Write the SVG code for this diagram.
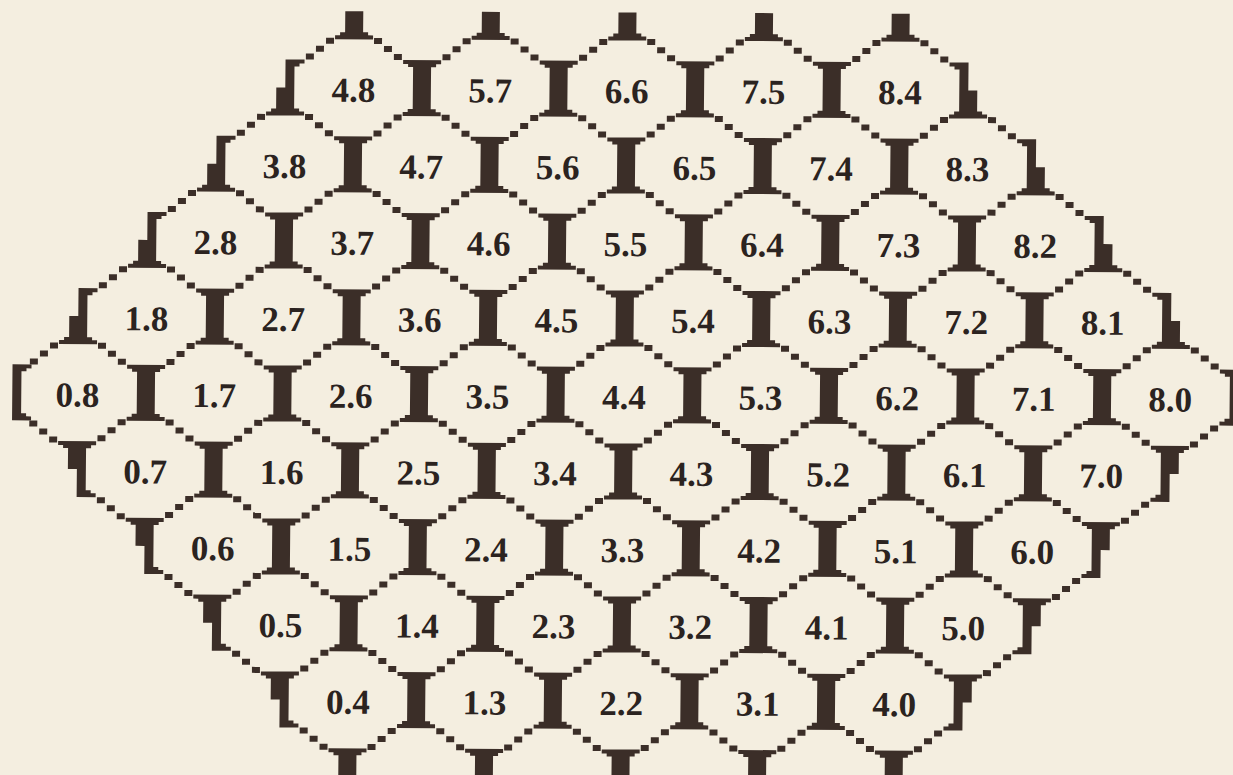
<svg xmlns="http://www.w3.org/2000/svg" xmlns:xlink="http://www.w3.org/1999/xlink" width="1233" height="775" viewBox="0 0 1233 775">
<style>
.lbl{font-family:"Liberation Serif","Times New Roman",serif;font-weight:bold;font-size:35px;fill:#2b2320;text-anchor:middle}
</style>
<defs>
<path id="ib" d="M-19 -28H19V-24H14V-21H9V21H14V24H19V28H-19V24H-14V21H-9V-21H-14V-24H-19Z"/>
<path id="ibT" d="M-9 0H9V21H14V24H19V28H-19V24H-14V21H-9Z"/>
<path id="ibB" d="M-19 -28H19V-24H14V-21H9V6H-9V-21H-14V-24H-19Z"/>
<path id="ibL1" d="M0 -28H19V-24H14V-21H9V21H14V24H19V28H-19V24H-14V21H-9V0H0Z"/>
<path id="ibR1" d="M0 -28H-19V-24H-14V-21H-9V21H-14V24H-19V28H19V24H14V21H9V0H0Z"/>
<path id="ibL2" d="M3 -28H22V-24H17V-21H12V21H17V24H22V28H3Z"/>
<path id="ibR2" d="M0 -28H-19V-24H-14V-21H-9V21H-14V24H-19V28H0Z"/>
<path id="ibL3" d="M-19 -28H19V-24H14V-21H9V21H14V24H19V28H0V0H-9V-21H-14V-24H-19Z"/>
<path id="ibR3" d="M19 -28H-19V-24H-14V-21H-9V21H-14V24H-19V28H0V0H9V-21H14V-24H19Z"/>
<g id="roof"><rect x="-48" y="-34" width="8" height="6"/><rect x="-38" y="-42" width="8" height="6"/><rect x="-28" y="-50" width="8" height="6"/><rect x="40" y="-34" width="8" height="6"/><rect x="30" y="-42" width="8" height="6"/><rect x="20" y="-50" width="8" height="6"/></g>
<g id="fl"><rect x="-48" y="28" width="8" height="6"/><rect x="-38" y="36" width="8" height="6"/><rect x="-28" y="44" width="8" height="6"/></g>
<g id="fr"><rect x="40" y="28" width="8" height="6"/><rect x="30" y="36" width="8" height="6"/><rect x="20" y="44" width="8" height="6"/></g>
</defs>
<rect width="1233" height="775" fill="#f4eee0"/>
<g transform="translate(626.8 89) matrix(1 0.0044 -0.0092 1 0 0)">
<g id="walls" fill="#3b2e28">
 <g transform="translate(0 -76.5)">
  <use href="#ibT" x="-273.2"/><use href="#ibT" x="-136.6"/><use href="#ibT" x="0"/><use href="#ibT" x="136.6"/><use href="#ibT" x="273.2"/>
 </g>
 <g>
  <use href="#ibL1" x="-341.5"/><use href="#ib" x="-204.9"/><use href="#ib" x="-68.3"/><use href="#ib" x="68.3"/><use href="#ib" x="204.9"/><use href="#ibR1" x="341.5"/>
  <use href="#roof" x="-273.2"/><use href="#roof" x="-136.6"/><use href="#roof" x="0"/><use href="#roof" x="136.6"/><use href="#roof" x="273.2"/>
 </g>
 <g transform="translate(0 76.5)">
  <use href="#ibL1" x="-409.8"/><use href="#ib" x="-273.2"/><use href="#ib" x="-136.6"/><use href="#ib" x="0"/><use href="#ib" x="136.6"/><use href="#ib" x="273.2"/><use href="#ibR1" x="409.8"/>
  <use href="#roof" x="-341.5"/><use href="#roof" x="-204.9"/><use href="#roof" x="-68.3"/><use href="#roof" x="68.3"/><use href="#roof" x="204.9"/><use href="#roof" x="341.5"/>
 </g>
 <g transform="translate(0 153)">
  <use href="#ibL1" x="-478.1"/><use href="#ib" x="-341.5"/><use href="#ib" x="-204.9"/><use href="#ib" x="-68.3"/><use href="#ib" x="68.3"/><use href="#ib" x="204.9"/><use href="#ib" x="341.5"/><use href="#ibR1" x="478.1"/>
  <use href="#roof" x="-409.8"/><use href="#roof" x="-273.2"/><use href="#roof" x="-136.6"/><use href="#roof" x="0"/><use href="#roof" x="136.6"/><use href="#roof" x="273.2"/><use href="#roof" x="409.8"/>
 </g>
 <g transform="translate(0 229.5)">
  <use href="#ibL1" x="-546.4"/><use href="#ib" x="-409.8"/><use href="#ib" x="-273.2"/><use href="#ib" x="-136.6"/><use href="#ib" x="0"/><use href="#ib" x="136.6"/><use href="#ib" x="273.2"/><use href="#ib" x="409.8"/><use href="#ibR1" x="546.4"/>
  <use href="#roof" x="-478.1"/><use href="#roof" x="-341.5"/><use href="#roof" x="-204.9"/><use href="#roof" x="-68.3"/><use href="#roof" x="68.3"/><use href="#roof" x="204.9"/><use href="#roof" x="341.5"/><use href="#roof" x="478.1"/>
 </g>
 <g transform="translate(0 306)">
  <use href="#ibL2" x="-614.7"/><use href="#ib" x="-478.1"/><use href="#ib" x="-341.5"/><use href="#ib" x="-204.9"/><use href="#ib" x="-68.3"/><use href="#ib" x="68.3"/><use href="#ib" x="204.9"/><use href="#ib" x="341.5"/><use href="#ib" x="478.1"/><use href="#ibR2" x="614.7"/>
  <use href="#roof" x="-546.4"/><use href="#roof" x="-409.8"/><use href="#roof" x="-273.2"/><use href="#roof" x="-136.6"/><use href="#roof" x="0"/><use href="#roof" x="136.6"/><use href="#roof" x="273.2"/><use href="#roof" x="409.8"/><use href="#roof" x="546.4"/>
  <use href="#fl" x="-546.4"/><use href="#fr" x="546.4"/>
 </g>
 <g transform="translate(0 382.5)">
  <use href="#ibL3" x="-546.4"/><use href="#ib" x="-409.8"/><use href="#ib" x="-273.2"/><use href="#ib" x="-136.6"/><use href="#ib" x="0"/><use href="#ib" x="136.6"/><use href="#ib" x="273.2"/><use href="#ib" x="409.8"/><use href="#ibR3" x="546.4"/>
  <use href="#roof" x="-478.1"/><use href="#roof" x="-341.5"/><use href="#roof" x="-204.9"/><use href="#roof" x="-68.3"/><use href="#roof" x="68.3"/><use href="#roof" x="204.9"/><use href="#roof" x="341.5"/><use href="#roof" x="478.1"/>
  <use href="#fl" x="-478.1"/><use href="#fr" x="478.1"/>
 </g>
 <g transform="translate(0 459)">
  <use href="#ibL3" x="-478.1"/><use href="#ib" x="-341.5"/><use href="#ib" x="-204.9"/><use href="#ib" x="-68.3"/><use href="#ib" x="68.3"/><use href="#ib" x="204.9"/><use href="#ib" x="341.5"/><use href="#ibR3" x="478.1"/>
  <use href="#roof" x="-409.8"/><use href="#roof" x="-273.2"/><use href="#roof" x="-136.6"/><use href="#roof" x="0"/><use href="#roof" x="136.6"/><use href="#roof" x="273.2"/><use href="#roof" x="409.8"/>
  <use href="#fl" x="-409.8"/><use href="#fr" x="409.8"/>
 </g>
 <g transform="translate(0 535.5)">
  <use href="#ibL3" x="-409.8"/><use href="#ib" x="-273.2"/><use href="#ib" x="-136.6"/><use href="#ib" x="0"/><use href="#ib" x="136.6"/><use href="#ib" x="273.2"/><use href="#ibR3" x="409.8"/>
  <use href="#roof" x="-341.5"/><use href="#roof" x="-204.9"/><use href="#roof" x="-68.3"/><use href="#roof" x="68.3"/><use href="#roof" x="204.9"/><use href="#roof" x="341.5"/>
  <use href="#fl" x="-341.5"/><use href="#fr" x="341.5"/>
 </g>
 <g transform="translate(0 612)">
  <use href="#ibL3" x="-341.5"/><use href="#ib" x="-204.9"/><use href="#ib" x="-68.3"/><use href="#ib" x="68.3"/><use href="#ib" x="204.9"/><use href="#ibR3" x="341.5"/>
  <use href="#roof" x="-273.2"/><use href="#roof" x="-136.6"/><use href="#roof" x="0"/><use href="#roof" x="136.6"/><use href="#roof" x="273.2"/>
  <use href="#fl" x="-273.2"/><use href="#fr" x="-273.2"/><use href="#fl" x="-136.6"/><use href="#fr" x="-136.6"/><use href="#fl" x="0"/><use href="#fr" x="0"/><use href="#fl" x="136.6"/><use href="#fr" x="136.6"/><use href="#fl" x="273.2"/><use href="#fr" x="273.2"/>
 </g>
 <g transform="translate(0 688.5)">
  <use href="#ibB" x="-273.2"/><use href="#ibB" x="-136.6"/><use href="#ibB" x="0"/><use href="#ibB" x="136.6"/><use href="#ibB" x="273.2"/>
 </g>
</g>
<g id="labels" class="lbl">
 <g>
  <g id="c48"><text class="lbl" x="-273.2" y="14">4.8</text></g>
  <g id="c57"><text class="lbl" x="-136.6" y="14">5.7</text></g>
  <g id="c66"><text class="lbl" x="0" y="14">6.6</text></g>
  <g id="c75"><text class="lbl" x="136.6" y="14">7.5</text></g>
  <g id="c84"><text class="lbl" x="273.2" y="14">8.4</text></g>
 </g>
 <g transform="translate(0 76.5)">
  <g id="c38"><text class="lbl" x="-341.5" y="14">3.8</text></g>
  <g id="c47"><text class="lbl" x="-204.9" y="14">4.7</text></g>
  <g id="c56"><text class="lbl" x="-68.3" y="14">5.6</text></g>
  <g id="c65"><text class="lbl" x="68.3" y="14">6.5</text></g>
  <g id="c74"><text class="lbl" x="204.9" y="14">7.4</text></g>
  <g id="c83"><text class="lbl" x="341.5" y="14">8.3</text></g>
 </g>
 <g transform="translate(0 153)">
  <g id="c28"><text class="lbl" x="-409.8" y="14">2.8</text></g>
  <g id="c37"><text class="lbl" x="-273.2" y="14">3.7</text></g>
  <g id="c46"><text class="lbl" x="-136.6" y="14">4.6</text></g>
  <g id="c55"><text class="lbl" x="0" y="14">5.5</text></g>
  <g id="c64"><text class="lbl" x="136.6" y="14">6.4</text></g>
  <g id="c73"><text class="lbl" x="273.2" y="14">7.3</text></g>
  <g id="c82"><text class="lbl" x="409.8" y="14">8.2</text></g>
 </g>
 <g transform="translate(0 229.5)">
  <g id="c18"><text class="lbl" x="-478.1" y="14">1.8</text></g>
  <g id="c27"><text class="lbl" x="-341.5" y="14">2.7</text></g>
  <g id="c36"><text class="lbl" x="-204.9" y="14">3.6</text></g>
  <g id="c45"><text class="lbl" x="-68.3" y="14">4.5</text></g>
  <g id="c54"><text class="lbl" x="68.3" y="14">5.4</text></g>
  <g id="c63"><text class="lbl" x="204.9" y="14">6.3</text></g>
  <g id="c72"><text class="lbl" x="341.5" y="14">7.2</text></g>
  <g id="c81"><text class="lbl" x="478.1" y="14">8.1</text></g>
 </g>
 <g transform="translate(0 306)">
  <g id="c08"><text class="lbl" x="-546.4" y="14">0.8</text></g>
  <g id="c17"><text class="lbl" x="-409.8" y="14">1.7</text></g>
  <g id="c26"><text class="lbl" x="-273.2" y="14">2.6</text></g>
  <g id="c35"><text class="lbl" x="-136.6" y="14">3.5</text></g>
  <g id="c44"><text class="lbl" x="0" y="14">4.4</text></g>
  <g id="c53"><text class="lbl" x="136.6" y="14">5.3</text></g>
  <g id="c62"><text class="lbl" x="273.2" y="14">6.2</text></g>
  <g id="c71"><text class="lbl" x="409.8" y="14">7.1</text></g>
  <g id="c80"><text class="lbl" x="546.4" y="14">8.0</text></g>
 </g>
 <g transform="translate(0 382.5)">
  <g id="c07"><text class="lbl" x="-478.1" y="14">0.7</text></g>
  <g id="c16"><text class="lbl" x="-341.5" y="14">1.6</text></g>
  <g id="c25"><text class="lbl" x="-204.9" y="14">2.5</text></g>
  <g id="c34"><text class="lbl" x="-68.3" y="14">3.4</text></g>
  <g id="c43"><text class="lbl" x="68.3" y="14">4.3</text></g>
  <g id="c52"><text class="lbl" x="204.9" y="14">5.2</text></g>
  <g id="c61"><text class="lbl" x="341.5" y="14">6.1</text></g>
  <g id="c70"><text class="lbl" x="478.1" y="14">7.0</text></g>
 </g>
 <g transform="translate(0 459)">
  <g id="c06"><text class="lbl" x="-409.8" y="14">0.6</text></g>
  <g id="c15"><text class="lbl" x="-273.2" y="14">1.5</text></g>
  <g id="c24"><text class="lbl" x="-136.6" y="14">2.4</text></g>
  <g id="c33"><text class="lbl" x="0" y="14">3.3</text></g>
  <g id="c42"><text class="lbl" x="136.6" y="14">4.2</text></g>
  <g id="c51"><text class="lbl" x="273.2" y="14">5.1</text></g>
  <g id="c60"><text class="lbl" x="409.8" y="14">6.0</text></g>
 </g>
 <g transform="translate(0 535.5)">
  <g id="c05"><text class="lbl" x="-341.5" y="14">0.5</text></g>
  <g id="c14"><text class="lbl" x="-204.9" y="14">1.4</text></g>
  <g id="c23"><text class="lbl" x="-68.3" y="14">2.3</text></g>
  <g id="c32"><text class="lbl" x="68.3" y="14">3.2</text></g>
  <g id="c41"><text class="lbl" x="204.9" y="14">4.1</text></g>
  <g id="c50"><text class="lbl" x="341.5" y="14">5.0</text></g>
 </g>
 <g transform="translate(0 612)">
  <g id="c04"><text class="lbl" x="-273.2" y="14">0.4</text></g>
  <g id="c13"><text class="lbl" x="-136.6" y="14">1.3</text></g>
  <g id="c22"><text class="lbl" x="0" y="14">2.2</text></g>
  <g id="c31"><text class="lbl" x="136.6" y="14">3.1</text></g>
  <g id="c40"><text class="lbl" x="273.2" y="14">4.0</text></g>
 </g>
</g>
</g>
</svg>
